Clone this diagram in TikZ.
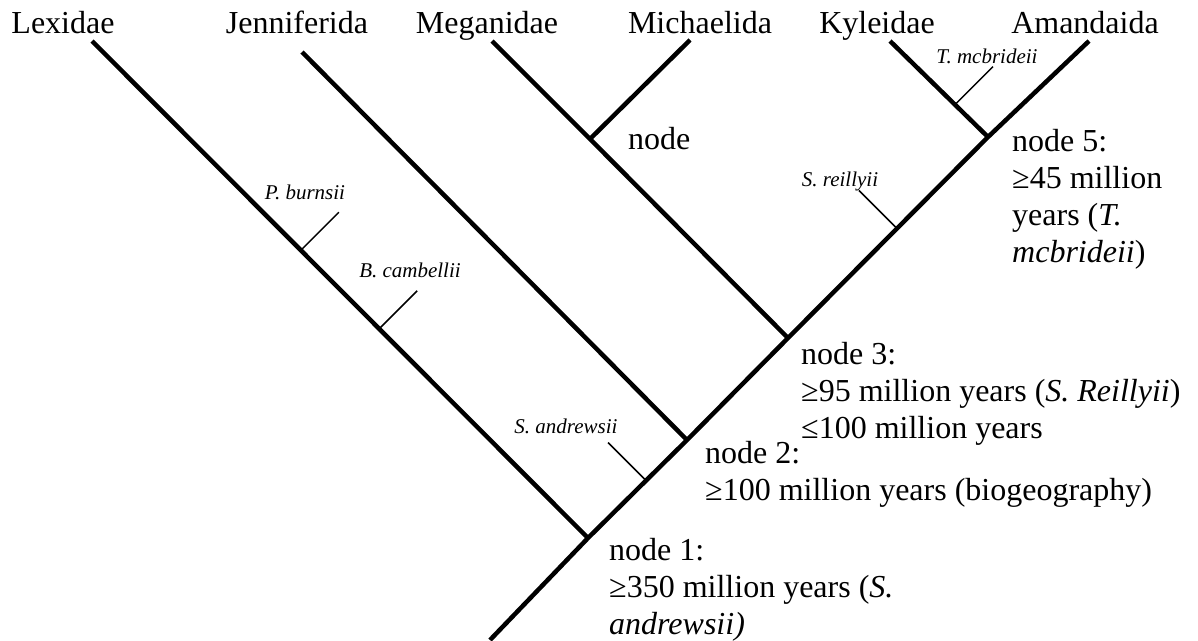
\documentclass[tikz,border=0pt]{standalone}
\usepackage{fontspec}
\setmainfont{Liberation Serif}
\usetikzlibrary{calc}
\begin{document}
\begin{tikzpicture}[x=1pt,y=-1pt,
    rama/.style={line width=4.5pt},
    marca/.style={line width=1.5pt},
    taxon/.style={anchor=base,inner sep=0pt,font=\fontsize{32}{37}\selectfont},
    fosil/.style={anchor=base,inner sep=0pt,font=\fontsize{21}{25}\selectfont\itshape},
    edad/.style={anchor=base west,align=left,inner sep=0pt,font=\fontsize{32}{37}\selectfont}]
    \useasboundingbox (0,0) rectangle (1198,640);

    % Coordenadas
    \coordinate (R) at (490,640);
    \coordinate (N1) at (588,538);
    \coordinate (N2) at (687,440);
    \coordinate (N3) at (788,338);
    \coordinate (N4) at (590,139);
    \coordinate (N5) at (988,137);
    \coordinate (tL) at (92,41);
    \coordinate (tJ) at (302,52);
    \coordinate (tMg) at (492,41);
    \coordinate (tMc) at (690,40);
    \coordinate (tK) at (890,41);
    \coordinate (tA) at (1089,41);

    % Nombres de los grupos
    \node[taxon] (lexi) at (63,33) {Lexidae};
    \node[taxon] (jenn) at (297,33) {Jenniferida};
    \node[taxon] (mega) at (487,33) {Meganidae};
    \node[taxon] (mich) at (700,33) {Michaelida};
    \node[taxon] (kyle) at (877,33) {Kyleidae};
    \node[taxon] (aman) at (1085,33) {Amandaida};

    % Ramas
    \draw[rama] (R) -- (N1) -- (N2) -- (N3) -- (N5) -- (tA);
    \draw[rama] (tL) -- (N1);
    \draw[rama] (tJ) -- (N2);
    \draw[rama] (tMg) -- (N4) -- (N3);
    \draw[rama] (tMc) -- (N4);
    \draw[rama] (tK) -- (N5);

    % Marcas de fosiles
    \coordinate (mP) at ($(tL)!0.421!(N1)$);
    \coordinate (mB) at ($(tL)!0.579!(N1)$);
    \coordinate (mSa) at ($(N1)!0.586!(N2)$);
    \coordinate (mSr) at ($(N3)!0.545!(N5)$);
    \coordinate (mT) at ($(tK)!0.663!(N5)$);
    \draw[marca] (mP) -- ++(38,-38) coordinate (mP2);
    \draw[marca] (mB) -- ++(38,-38) coordinate (mB2);
    \draw[marca] (mSa) -- ++(-38,-38) coordinate (mSa2);
    \draw[marca] (mSr) -- ++(-38,-38) coordinate (mSr2);
    \draw[marca] (mT) -- ++(38,-38) coordinate (mT2);
    \node[fosil] (burn) at (305,199) {P. burnsii};
    \node[fosil] (camb) at (410,277) {B. cambellii};
    \node[fosil] (andr) at (566,433) {S. andrewsii};
    \node[fosil] (reil) at (840,186) {S. reillyii};
    \node[fosil] (mcbr) at (987,63) {T. mcbrideii};

    % Edades de los nodos (ancla en la ultima linea)
    \node[edad] (e4) at (628,149) {node};
    \node[edad] (e5) at (1012,262) {node 5:\\≥45 million\\years (\textit{T.}\\\textit{mcbrideii})};
    \node[edad] (e3) at (801,438) {node 3:\\≥95 million years (\textit{S. Reillyii})\\≤100 million years};
    \node[edad] (e2) at (705,500) {node 2:\\≥100 million years (biogeography)};
    \node[edad] (e1) at (609,634) {node 1:\\≥350 million years (\textit{S.}\\\textit{andrewsii)}};
\end{tikzpicture}
\end{document}
